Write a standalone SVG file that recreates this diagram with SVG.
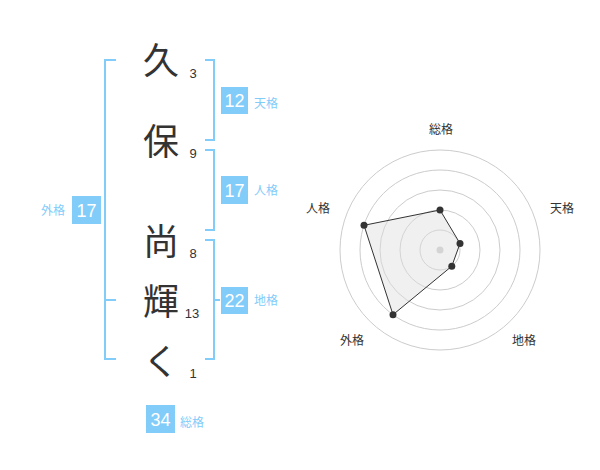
<svg xmlns="http://www.w3.org/2000/svg" width="600" height="470" viewBox="0 0 600 470">
<style>
.kanji{font-family:"Noto Sans CJK JP","Noto Sans CJK SC",sans-serif;font-size:36px;fill:#333;text-anchor:middle}
.num{font-family:"Liberation Sans",Arial,sans-serif;font-size:13px;fill:#333;text-anchor:middle}
.br{fill:none;stroke:#82CCFA;stroke-width:2}
.box{fill:#82CCFA}
.bnum{font-family:"Liberation Sans",Arial,sans-serif;font-size:18px;fill:#fff;text-anchor:middle}
.lbl{font-family:"Noto Sans CJK JP","Noto Sans CJK SC",sans-serif;font-size:12px;fill:#82CCFA}
.rl{font-family:"Noto Sans CJK JP","Noto Sans CJK SC",sans-serif;font-size:12px;fill:#333;text-anchor:middle}
.ring{fill:none;stroke:#ccc;stroke-width:1}
</style>
<rect width="600" height="470" fill="#fff"/>
<g id="chars">
<text class="kanji" x="161" y="74">久</text>
<text class="kanji" x="161" y="155">保</text>
<text class="kanji" x="161" y="255">尚</text>
<text class="kanji" x="161" y="315">輝</text>
<text class="kanji" x="161" y="375">く</text>
<text class="num" x="193" y="78">3</text>
<text class="num" x="193" y="158">9</text>
<text class="num" x="193" y="258">8</text>
<text class="num" x="192" y="318">13</text>
<text class="num" x="193" y="378">1</text>
</g>
<g id="connectors">
<path class="br" d="M116,60 H105 V359 H116 M105,300 H116"/>
<path class="br" d="M205,60 H214 V140 H205"/>
<path class="br" d="M205,150 H214 V230 H205"/>
<path class="br" d="M205,240 H214 V359 H205 M214,300 H220"/>
</g>
<g id="tenkaku">
<rect class="box" x="221" y="87" width="27" height="27"/>
<text class="bnum" x="234.5" y="107">12</text>
<text class="lbl" x="254" y="108">天格</text>
</g>
<g id="jinkaku">
<rect class="box" x="221" y="176" width="27" height="28"/>
<text class="bnum" x="234.5" y="197">17</text>
<text class="lbl" x="254" y="195">人格</text>
</g>
<g id="chikaku">
<rect class="box" x="221" y="287" width="27" height="27"/>
<text class="bnum" x="234.5" y="307">22</text>
<text class="lbl" x="254" y="305">地格</text>
</g>
<g id="gaikaku">
<rect class="box" x="72" y="196" width="29" height="28"/>
<text class="bnum" x="86.5" y="217">17</text>
<text class="lbl" x="65" y="215" text-anchor="end">外格</text>
</g>
<g id="soukaku">
<rect class="box" x="146" y="405" width="29" height="28"/>
<text class="bnum" x="160.5" y="426">34</text>
<text class="lbl" x="180" y="427">総格</text>
</g>
<g id="radar">
<circle class="ring" cx="440" cy="250" r="20"/>
<circle class="ring" cx="440" cy="250" r="40"/>
<circle class="ring" cx="440" cy="250" r="60"/>
<circle class="ring" cx="440" cy="250" r="80"/>
<circle class="ring" cx="440" cy="250" r="100"/>
<circle cx="440" cy="250" r="3.5" fill="#ccc"/>
<polygon points="440,210 460,243.5 451.8,266.2 393,314.7 364,225.3" fill="#ddd" fill-opacity="0.45" stroke="#333" stroke-width="1"/>
<g fill="#333">
<circle cx="440" cy="210" r="3.5"/>
<circle cx="460" cy="243.5" r="3.5"/>
<circle cx="451.8" cy="266.2" r="3.5"/>
<circle cx="393" cy="314.7" r="3.5"/>
<circle cx="364" cy="225.3" r="3.5"/>
</g>
<text class="rl" x="441" y="134">総格</text>
<text class="rl" x="562" y="213">天格</text>
<text class="rl" x="524" y="345">地格</text>
<text class="rl" x="352" y="345">外格</text>
<text class="rl" x="318" y="213">人格</text>
</g>
</svg>
